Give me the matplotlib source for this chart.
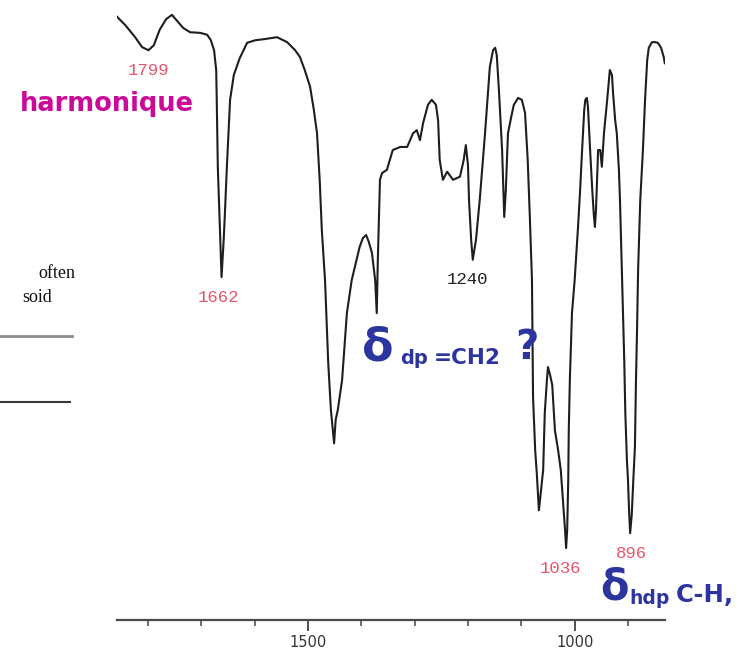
import matplotlib
matplotlib.use("Agg")
import matplotlib.pyplot as plt
from matplotlib.lines import Line2D

# IR spectrum trace: wavenumber (cm-1) and transmittance (%)
wavenumber = [
    1858, 1843, 1824, 1811, 1799, 1789, 1778, 1766, 1755, 1744, 1734, 1721,
    1702, 1689, 1682, 1676, 1672, 1671, 1669, 1665, 1662, 1658, 1656, 1652,
    1646, 1639, 1628, 1614, 1599, 1581, 1558, 1539, 1524, 1515, 1506, 1496,
    1489, 1483, 1478, 1474, 1468, 1462, 1457, 1451, 1448, 1444, 1436, 1427,
    1418, 1410, 1403, 1397, 1391, 1386, 1380, 1374, 1371, 1369, 1367, 1365,
    1361, 1352, 1341, 1327, 1314, 1303, 1296, 1290, 1284, 1275, 1268, 1260,
    1256, 1253, 1247, 1239, 1228, 1215, 1208, 1204, 1200, 1198, 1194, 1191,
    1185, 1178, 1168, 1162, 1159, 1153, 1149, 1146, 1142, 1136, 1132, 1129,
    1125, 1119, 1114, 1106, 1099, 1093, 1088, 1084, 1080, 1078, 1074, 1071,
    1067, 1063, 1059, 1056, 1052, 1050, 1046, 1042, 1037, 1031, 1026, 1022,
    1018, 1016, 1014, 1012, 1011, 1009, 1005, 1000, 994, 990, 986, 982,
    980, 977, 975, 971, 967, 964, 962, 960, 956, 952, 949, 947,
    945, 939, 934, 930, 928, 924, 921, 917, 915, 911, 907, 905,
    902, 900, 898, 896, 893, 890, 887, 885, 883, 881, 877, 872,
    868, 864, 861, 855, 849, 844, 838, 833, 831,
]
transmittance = [
    97.3, 96.0, 94.0, 92.4, 91.9, 92.7, 95.2, 96.9, 97.6, 96.5, 95.5, 94.8,
    94.7, 94.4, 93.5, 91.9, 88.7, 83.9, 73.1, 62.9, 55.3, 61.3, 65.0, 73.1,
    83.9, 87.9, 90.6, 93.1, 93.5, 93.7, 94.0, 93.2, 91.9, 90.8, 88.7, 86.0,
    82.3, 78.5, 71.0, 62.9, 54.8, 41.5, 33.9, 28.5, 32.3, 33.9, 38.7, 49.5,
    54.8, 57.7, 60.2, 61.6, 62.1, 61.0, 59.2, 54.8, 49.5, 58.1, 64.5, 71.0,
    72.1, 72.6, 75.8, 76.3, 76.3, 78.5, 79.0, 77.4, 80.2, 83.1, 83.9, 83.1,
    80.6, 74.2, 71.0, 72.3, 71.0, 71.5, 74.2, 76.6, 73.4, 67.7, 61.3, 58.1,
    61.3, 67.7, 78.5, 85.5, 89.2, 91.9, 92.3, 91.1, 85.5, 75.8, 65.0, 69.4,
    78.5, 81.1, 83.1, 84.2, 83.9, 81.8, 74.2, 65.0, 54.8, 36.0, 27.4, 23.7,
    17.7, 21.0, 24.2, 33.4, 38.7, 40.8, 39.5, 37.9, 30.6, 27.4, 24.2, 19.4,
    14.5, 11.6, 14.5, 22.6, 30.6, 38.7, 49.5, 54.8, 62.9, 68.9, 75.8, 82.3,
    83.9, 84.2, 82.7, 75.8, 69.4, 65.3, 63.4, 66.1, 75.8, 75.8, 73.1, 75.8,
    78.5, 83.9, 88.7, 87.9, 85.0, 80.6, 78.5, 72.6, 67.7, 54.8, 41.9, 33.4,
    25.8, 22.6, 17.7, 14.0, 16.9, 22.6, 27.9, 38.7, 46.8, 56.5, 67.7, 75.8,
    83.9, 90.3, 92.3, 93.2, 93.2, 93.1, 92.3, 90.8, 89.8,
]

# Labelled absorption bands: label text and band position on the trace
band_labels = ["1799", "1662", "1240", "1036", "896"]
band_wavenumber = [1799, 1662, 1191, 1016, 896]
band_transmittance = [91.9, 55.3, 58.1, 11.6, 14.0]
band_colors = ["#e4566c", "#e4566c", "#222222", "#e4566c", "#e4566c"]

major_ticks = [1500, 1000]
minor_ticks = [1800, 1700, 1600, 1400, 1300, 1200, 1100, 900]

W, H = 751, 651
fig = plt.figure(figsize=(W / 100, H / 100), dpi=100)
fig.patch.set_facecolor("white")


def fx(px):
    return px / W


def fy(py):
    return 1 - py / H


ax = fig.add_axes([fx(117), fy(620), fx(665) - fx(117), fy(0) - fy(620)])
ax.plot(wavenumber, transmittance, color="#1e1e1e", lw=1.5, solid_joinstyle="round")
ax.set_xlim(1858, 830.6)
ax.set_ylim(0, 100)

for side in ("top", "left", "right"):
    ax.spines[side].set_visible(False)
ax.spines["bottom"].set_color("#4a4a4a")
ax.spines["bottom"].set_linewidth(1.6)
ax.set_yticks([])
ax.set_xticks(major_ticks)
ax.set_xticks(minor_ticks, minor=True)
ax.tick_params(axis="x", which="major", direction="out", length=8, width=1.2,
               color="#333333", pad=3, labelsize=10.5, labelcolor="#333333")
ax.tick_params(axis="x", which="minor", direction="out", length=4, width=1.2,
               color="#555555")
ax.patch.set_alpha(0)

# Band labels below each absorption minimum
label_dx = [0, -3, -5, -6, 1]
for text, wn, t, c, dx in zip(band_labels, band_wavenumber, band_transmittance,
                              band_colors, label_dx):
    ax.annotate(text, xy=(wn, t), xytext=(dx, -20), textcoords="offset pixels",
                ha="center", va="center", fontsize=12.5, color=c,
                family="Liberation Mono")

# Hand-written assignment notes
fig.text(fx(20), fy(111), "harmonique", color="#cc0a99", fontsize=18.5,
         fontweight="bold", family="DejaVu Sans", va="baseline")

blue = "#2c34a0"
fig.text(fx(362), fy(360), "δ", color=blue, fontsize=33, fontweight="bold",
         family="DejaVu Sans", va="baseline")
fig.text(fx(400), fy(364), "dp", color=blue, fontsize=14, fontweight="bold",
         family="DejaVu Sans", va="baseline")
fig.text(fx(434), fy(364), "=CH2", color=blue, fontsize=15.5, fontweight="bold",
         family="DejaVu Sans", va="baseline")
fig.text(fx(515), fy(359), "?", color=blue, fontsize=29, fontweight="bold",
         family="DejaVu Sans", va="baseline")

fig.text(fx(600), fy(600), "δ", color=blue, fontsize=30, fontweight="bold",
         family="DejaVu Sans", va="baseline")
fig.text(fx(629), fy(604), "hdp", color=blue, fontsize=13.5, fontweight="bold",
         family="DejaVu Sans", va="baseline")
fig.text(fx(676), fy(602), "C-H,", color=blue, fontsize=17.5, fontweight="bold",
         family="DejaVu Sans", va="baseline")

# Fragment of a neighbouring figure on the left edge
fig.text(fx(38), fy(278), "often", color="#111111", fontsize=13,
         family="Liberation Serif", va="baseline")
fig.text(fx(52), fy(302), "soid", color="#111111", fontsize=13,
         family="Liberation Serif", va="baseline", ha="right")
fig.add_artist(Line2D([fx(0), fx(72)], [fy(336), fy(336)], color="#8c8c8c",
                      lw=2.0, transform=fig.transFigure))
fig.add_artist(Line2D([fx(0), fx(70)], [fy(402), fy(402)], color="#3a3a3a",
                      lw=1.5, transform=fig.transFigure))

fig.savefig("out.png", dpi=100, facecolor="white")
